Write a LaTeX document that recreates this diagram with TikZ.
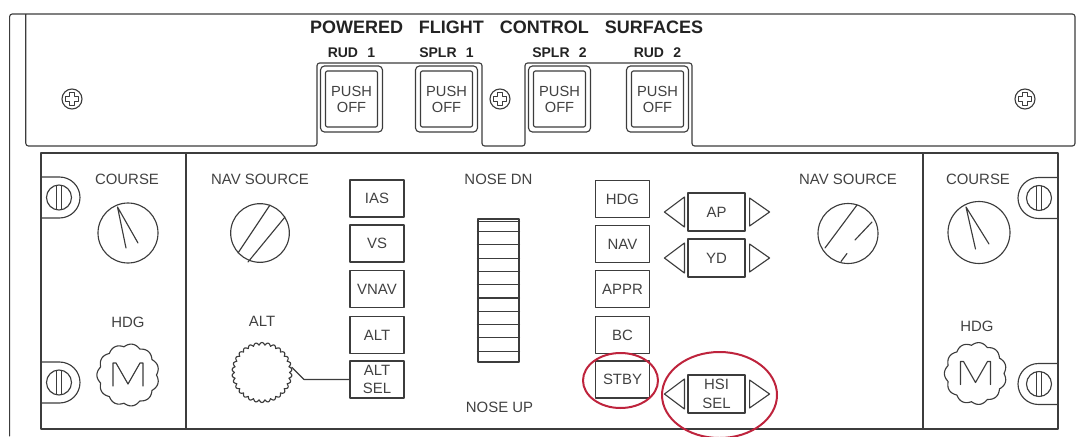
\documentclass[tikz,border=0pt]{standalone}
\usepackage{fontspec}
\setmainfont{Liberation Sans}
\usetikzlibrary{calc}
\definecolor{lncol}{RGB}{60,60,60}
\definecolor{txtcol}{RGB}{65,65,65}
\definecolor{titcol}{RGB}{35,35,35}
\definecolor{redcol}{RGB}{190,35,60}
\newcommand{\lblfont}{\fontsize{11.2}{14}\selectfont}
\newcommand{\pushfont}{\fontsize{11}{12}\selectfont}
\newcommand{\titlefont}{\fontsize{13.5}{15}\selectfont\bfseries}
\newcommand{\subfont}{\fontsize{10.5}{12}\selectfont\bfseries}
\begin{document}
\begin{tikzpicture}[x=0.75pt, y=-0.75pt, line join=round, line cap=round,
  ln/.style={draw=lncol, line width=0.85pt},
  lbl/.style={text=txtcol, font=\lblfont, inner sep=0pt, align=center},
  sublbl/.style={text=titcol, font=\subfont, inner sep=0pt},
  modebtn/.style={ln, text=txtcol, font=\lblfont, minimum width=40.5pt, minimum height=27.75pt, inner sep=0pt, align=center},
  apbtn/.style={modebtn, minimum width=42.75pt, minimum height=28.5pt},
  pushouter/.style={ln, rounded corners=3pt, minimum width=46.5pt, minimum height=49.5pt, inner sep=0pt},
  pushinner/.style={ln, rounded corners=1.5pt, minimum width=39pt, minimum height=42pt, inner sep=0pt, text=txtcol, font=\pushfont, align=center},
  knob/.style={ln, circle, inner sep=0pt},
  redmark/.style={draw=redcol, line width=1.5pt},
  topscrew/.pic={
    \node[knob, minimum size=15pt] (-c) at (0,0) {};
    \draw[ln, line width=0.6pt] (-2.5,-6.5) -- (2.5,-6.5) -- (2.5,-2.5) -- (6.5,-2.5) -- (6.5,2.5) -- (2.5,2.5) -- (2.5,6.5) -- (-2.5,6.5) -- (-2.5,2.5) -- (-6.5,2.5) -- (-6.5,-2.5) -- (-2.5,-2.5) -- cycle;
  },
  panelclip/.pic={
    \draw[ln] (-18.5,-20.5) -- (0,-20.5) arc[start angle=-90, end angle=90, radius=20.5] -- (-18.5,20.5);
    \node[knob, minimum size=18.75pt] (-c) at (-0.5,0) {};
    \draw[ln] (-3,-12) -- (-3,12) (2,-12) -- (2,12);
  }
]
\useasboundingbox (0,0) rectangle (1079,436);

% ---------- top panel ----------
\draw[ln, rounded corners=2pt] (9.6,436) -- (9.6,14) -- (1075,14) -- (1075,146) -- (692,146) -- (692,63) -- (525,63) -- (525,146) -- (482,146) -- (482,63) -- (317,63) -- (317,146) -- (25.8,146) -- (25.8,14);

\node[text=titcol, font=\titlefont, inner sep=0pt] (title) at (506.5,27.5) {POWERED\hspace{12pt}FLIGHT\hspace{12pt}CONTROL\hspace{12pt}SURFACES};

\foreach \nm/\xx/\lab in {b1/351.5/{RUD\hspace{7pt}1}, b2/446.5/{SPLR\hspace{7pt}1}, b3/559.5/{SPLR\hspace{7pt}2}, b4/657.5/{RUD\hspace{7pt}2}}{
  \node[sublbl] (\nm lab) at (\xx,53) {\lab};
  \node[pushouter] (\nm out) at (\xx,99) {};
  \node[pushinner] (\nm) at (\xx,99) {PUSH\\OFF};
}

\pic (scrT1) at (72,99) {topscrew};
\pic (scrT2) at (500,99) {topscrew};
\pic (scrT3) at (1025,99) {topscrew};

% ---------- lower panel ----------
\draw[ln] (41,153) rectangle (1058,429);
\coordinate (divLt) at (186,153); \coordinate (divLb) at (186,429);
\coordinate (divRt) at (923,153); \coordinate (divRb) at (923,429);
\draw[ln] (divLt) -- (divLb);
\draw[ln] (divRt) -- (divRb);

\pic (clipL1) at (59.5,197.5) {panelclip};
\pic (clipL2) at (59.5,382.5) {panelclip};
\pic[xscale=-1] (clipR1) at (1038.5,198) {panelclip};
\pic[xscale=-1] (clipR2) at (1038.5,384) {panelclip};

% left panel
\node[lbl] (crsLlab) at (127,179) {COURSE};
\node[knob, minimum size=45pt] (crsL) at (128,233) {};
\draw[ln] ($(crsL)+(-2,15)$) -- ($(crsL)+(-10.5,-26)$) -- ($(crsL)+(10,10)$);
\node[lbl] (hdgLlab) at (128,322) {HDG};
\coordinate (hdgL) at (128,375);
\draw[ln, shift={(hdgL)}] plot[domain=0:360, samples=265] ({(28.5+2.6*abs(sin(5.5*\x)))*cos(\x)}, {(28.5+2.6*abs(sin(5.5*\x)))*sin(\x)}) -- cycle;
\draw[ln, shift={(hdgL)}] (-15,11) -- (-15,-12) -- (-12,-12) -- (0,9) -- (12,-12) -- (15,-12) -- (15,11);

% right panel
\node[lbl] (crsRlab) at (978,179) {COURSE};
\node[knob, minimum size=46.5pt] (crsR) at (979,232.5) {};
\draw[ln] ($(crsR)+(-3.5,16.5)$) -- ($(crsR)+(-13,-25.5)$) -- ($(crsR)+(10,11.5)$);
\node[lbl] (hdgRlab) at (977,326) {HDG};
\coordinate (hdgR) at (975.5,373.5);
\draw[ln, shift={(hdgR)}] plot[domain=0:360, samples=265] ({(28.5+2.6*abs(sin(5.5*\x)))*cos(\x)}, {(28.5+2.6*abs(sin(5.5*\x)))*sin(\x)}) -- cycle;
\draw[ln, shift={(hdgR)}] (-15,11) -- (-15,-12) -- (-12,-12) -- (0,9) -- (12,-12) -- (15,-12) -- (15,11);

% nav source knobs
\node[lbl] (navLlab) at (260,179) {NAV SOURCE};
\node[knob, minimum size=44pt] (navL) at (260,233) {};
\draw[ln] ($(navL)+(-22,20)$) -- ($(navL)+(10,-28)$);
\draw[ln] ($(navL)+(-12,29)$) -- ($(navL)+(25,-16)$);

\node[lbl] (navRlab) at (848,179) {NAV SOURCE};
\node[knob, minimum size=45pt] (navR) at (848,233.5) {};
\draw[ln] ($(navR)+(-23,14.5)$) -- ($(navR)+(9,-28.5)$);
\draw[ln] ($(navR)+(7,6.5)$) -- ($(navR)+(24,-11.5)$);
\draw[ln] ($(navR)+(-7,28)$) -- ($(navR)+(-1,20)$);

% ALT knob
\node[lbl] (altlab) at (262,321) {ALT};
\node[circle, minimum size=45pt, inner sep=0pt] (altk) at (262,372.5) {};
\draw[ln, shift={(altk)}] plot[domain=0:360, samples=361] ({(27.5+2.5*abs(sin(15*\x)))*cos(\x)}, {(27.5+2.5*abs(sin(15*\x)))*sin(\x)}) -- cycle;

% mode buttons, left column
\node[modebtn] (ias)  at (377,198.5) {IAS};
\node[modebtn] (vs)   at (377,243.5) {VS};
\node[modebtn] (vnav) at (377,289)   {VNAV};
\node[modebtn] (alt)  at (377,335)   {ALT};
\node[modebtn] (altsel) at (377,379.5) {ALT\\SEL};
\coordinate (altbend) at (304,379.5);
\draw[ln] (altk.10) -- (altbend) -- (altsel.west);

% trim wheel
\node[lbl] (nosedn) at (498.5,179) {NOSE DN};
\node[ln, minimum width=30.75pt, minimum height=107.25pt, inner sep=0pt] (trim) at (498.5,290.5) {};
\foreach \yy in {221.5,231.5,244.8,258.1,271.4,284.7,298,311.3,324.6,337.9,351.2}{
  \draw[ln] (trim.west |- 0,\yy) -- (trim.east |- 0,\yy);
}
\node[lbl] (noseup) at (499.5,407) {NOSE UP};

% mode buttons, right column
\node[modebtn] (hdg)  at (622.5,199)   {HDG};
\node[modebtn] (nav)  at (622.5,244)   {NAV};
\node[modebtn] (appr) at (622.5,289)   {APPR};
\node[modebtn] (bc)   at (622.5,335)   {BC};
\node[modebtn] (stby) at (622.5,379.5) {STBY};

% AP / YD / HSI SEL with arrows
\node[apbtn] (ap)  at (716.5,212) {AP};
\node[apbtn] (yd)  at (716.5,258) {YD};
\node[apbtn] (hsi) at (716.5,394) {HSI\\SEL};
\foreach \b in {ap,yd,hsi}{
  \draw[ln] ($(\b.west)+(-3,-15)$) -- ($(\b.west)+(-3,15)$) -- ($(\b.west)+(-23,0)$) -- cycle;
  \draw[ln] ($(\b.east)+(4,-14)$) -- ($(\b.east)+(4,14)$) -- ($(\b.east)+(24,0)$) -- cycle;
}

% red highlight ellipses
\draw[redmark] (620.5,380.5) ellipse[x radius=37.5, y radius=27.5];
\draw[redmark] (719.5,395) ellipse[x radius=57.5, y radius=43];

\end{tikzpicture}
\end{document}
